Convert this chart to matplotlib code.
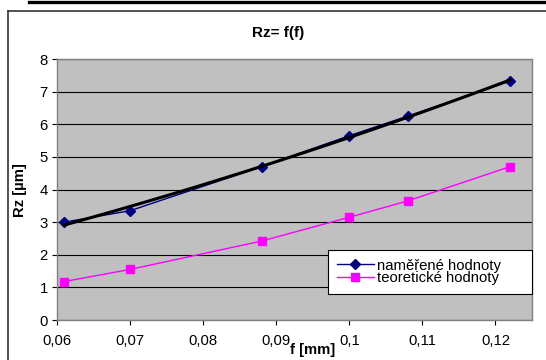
import numpy as np
import matplotlib
matplotlib.use("Agg")
import matplotlib.pyplot as plt
from matplotlib.lines import Line2D
from matplotlib.ticker import FuncFormatter, MultipleLocator

plt.rcParams['font.family'] = ['Liberation Sans', 'DejaVu Sans']

# data
f_mm = [0.061, 0.07, 0.088, 0.1, 0.108, 0.122]
rz_namerene = [3.0, 3.35, 4.7, 5.65, 6.25, 7.32]
rz_teoreticke = [1.18, 1.55, 2.42, 3.15, 3.65, 4.7]

W, H = 546, 360
fig = plt.figure(figsize=(W / 100, H / 100), dpi=100)

# piece of the table above the chart
fig.add_artist(Line2D([29 / W, 1.0], [1 - 1.5 / H, 1 - 1.5 / H], color='black', lw=2.4))
# chart frame (left and top edge visible)
fig.add_artist(Line2D([8 / W, 8 / W], [0, 1 - 11 / H], color='#333333', lw=1.2))
fig.add_artist(Line2D([8 / W, 1.0], [1 - 11 / H, 1 - 11 / H], color='#333333', lw=1.2))

ax = fig.add_axes([57 / W, 40 / H, 475 / W, 261 / H])
ax.set_facecolor('#C0C0C0')

ax.plot(f_mm, rz_namerene, color='#000080', lw=1, marker='D', ms=5.5,
        mfc='#000080', mec='#000080', label='naměřené hodnoty', zorder=3)
ax.plot(f_mm, rz_teoreticke, color='#FF00FF', lw=1, marker='s', ms=6,
        mfc='#FF00FF', mec='#FF00FF', label='teoretické hodnoty', zorder=3)

# trendline of the measured values
coef = np.polyfit(f_mm, rz_namerene, 2)
xt = np.linspace(min(f_mm), max(f_mm), 100)
ax.plot(xt, np.polyval(coef, xt), color='black', lw=2.2, zorder=4)

ax.set_xlim(0.06, 0.125)
ax.set_ylim(0, 8)
ax.xaxis.set_major_locator(MultipleLocator(0.01))
ax.yaxis.set_major_locator(MultipleLocator(1))
ax.xaxis.set_major_formatter(FuncFormatter(lambda v, p: f"{v:.2f}".rstrip('0').replace('.', ',') if v <= 0.1205 else ''))
ax.yaxis.set_major_formatter(FuncFormatter(lambda v, p: f"{v:g}"))
ax.grid(axis='y', color='black', lw=0.8)
ax.set_axisbelow(True)
for s in ax.spines.values():
    s.set_color('#808080')
    s.set_linewidth(1)
ax.tick_params(axis='both', direction='out', length=3.5, width=0.8, color='black',
               labelsize=10.7)
ax.tick_params(axis='x', pad=6.5)
ax.tick_params(axis='y', pad=3)

leg = ax.legend(loc='lower left', bbox_to_anchor=(0.5705, 0.0996, 0.4295, 0.172),
                mode='expand', borderaxespad=0, fontsize=10.7, labelspacing=-0.1,
                borderpad=0.6, handlelength=2.5, handletextpad=0.2,
                fancybox=False, framealpha=1, edgecolor='black')
leg.get_frame().set_linewidth(0.8)
leg.set_zorder(5)

fig.text(278 / W, 1 - 33 / H, 'Rz= f(f)', ha='center', va='center',
         fontsize=11, fontweight='bold')
fig.text(313 / W, 1 - 350 / H, 'f [mm]', ha='center', va='center',
         fontsize=10.7, fontweight='bold')
fig.text(20 / W, 1 - 190 / H, 'Rz [µm]', ha='center', va='center',
         rotation=90, fontsize=10.7, fontweight='bold')

fig.savefig('out.png', dpi=100)
